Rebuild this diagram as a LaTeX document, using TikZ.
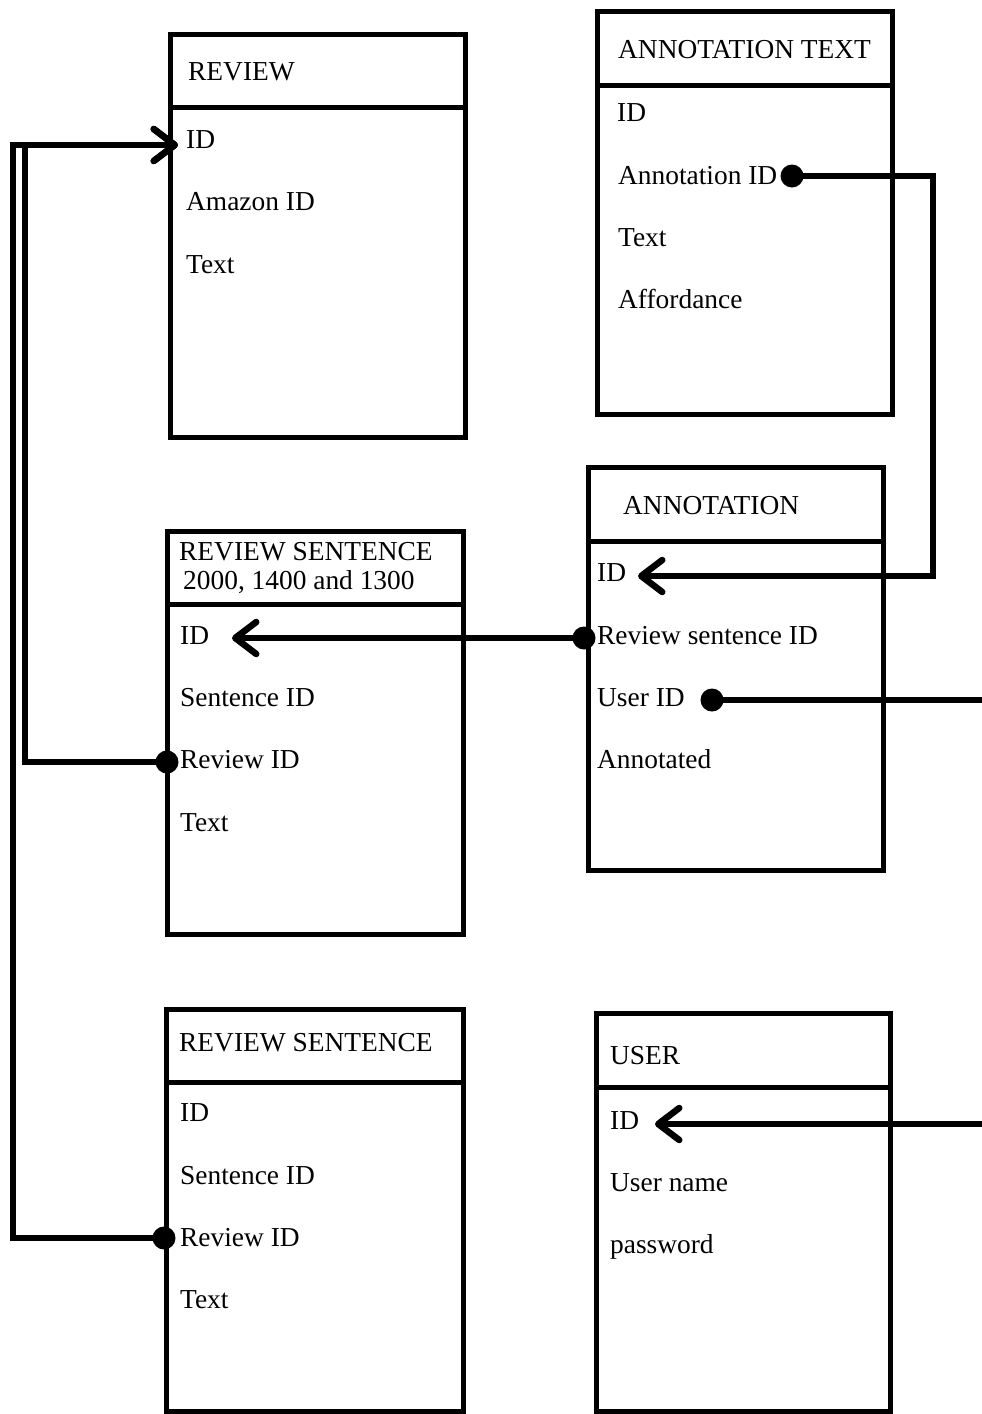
\documentclass[tikz,border=0pt]{standalone}
\usepackage{fontspec}
\setmainfont{Liberation Serif}
\usetikzlibrary{arrows.meta}
\begin{document}
\begin{tikzpicture}[x=1pt,y=-1pt,
 tbl/.style={draw, line width=5pt, rectangle, inner sep=0pt, outer sep=0pt, anchor=north west},
 sepline/.style={line width=5pt},
 fld/.style={anchor=west, inner sep=0pt, text height=17pt, text depth=0pt, font=\fontsize{27.4}{30}\selectfont},
 conn/.style={line width=5.5pt},
 arr/.style={conn, -{Straight Barb[length=21pt,width=32pt,line width=6.5pt,round]}},
 dotn/.style={circle, fill=black, inner sep=0pt, minimum size=23pt}]
\useasboundingbox (0,0) rectangle (982,1414);
\fill[white] (0,0) rectangle (982,1414);

% tables
\node[tbl, minimum width=295pt, minimum height=403pt] (review) at (170,34) {};
\draw[sepline] (170,107) -- (465,107);
\node[tbl, minimum width=295pt, minimum height=403pt] (anntext) at (597,11) {};
\draw[sepline] (597,85) -- (892,85);
\node[tbl, minimum width=296pt, minimum height=403pt] (rs1) at (167,531) {};
\draw[sepline] (167,604) -- (463,604);
\node[tbl, minimum width=295pt, minimum height=403pt] (annot) at (588,467) {};
\draw[sepline] (588,541) -- (883,541);
\node[tbl, minimum width=297pt, minimum height=402pt] (rs2) at (166,1009) {};
\draw[sepline] (166,1082) -- (463,1082);
\node[tbl, minimum width=294pt, minimum height=398pt] (user) at (596,1013) {};
\draw[sepline] (596,1087) -- (890,1087);

% texts
\node[fld] (revT) at (188,72) {REVIEW};
\node[fld] (revID) at (186,140) {ID};
\node[fld] (revAm) at (186,202) {Amazon ID};
\node[fld] (revTx) at (186,265) {Text};

\node[fld] (atT) at (618,50) {ANNOTATION TEXT};
\node[fld] (atID) at (617,113) {ID};
\node[fld] (atAn) at (618,176) {Annotation ID};
\node[fld] (atTx) at (618,238) {Text};
\node[fld] (atAf) at (618,300) {Affordance};

\node[fld] (anT) at (623,506) {ANNOTATION};
\node[fld] (anID) at (597,573) {ID};
\node[fld] (anRs) at (597,636) {Review sentence ID};
\node[fld] (anUs) at (597,698) {User ID};
\node[fld] (anAn) at (597,760) {Annotated};

\node[fld] (rs1T) at (179,552) {REVIEW SENTENCE};
\node[fld] (rs1T2) at (183,581) {2000, 1400 and 1300};
\node[fld] (rs1ID) at (180,636) {ID};
\node[fld] (rs1Se) at (180,698) {Sentence ID};
\node[fld] (rs1Rv) at (180,760) {Review ID};
\node[fld] (rs1Tx) at (180,823) {Text};

\node[fld] (rs2T) at (179,1043) {REVIEW SENTENCE};
\node[fld] (rs2ID) at (180,1113) {ID};
\node[fld] (rs2Se) at (180,1176) {Sentence ID};
\node[fld] (rs2Rv) at (180,1238) {Review ID};
\node[fld] (rs2Tx) at (180,1300) {Text};

\node[fld] (usT) at (610,1056) {USER};
\node[fld] (usID) at (610,1121) {ID};
\node[fld] (usNm) at (610,1183) {User name};
\node[fld] (usPw) at (610,1245) {password};

% ports
\coordinate (toRevID) at (178,145);
\coordinate (bend1) at (25,145);
\coordinate (bend2) at (13,145);
\coordinate (toRS1ID) at (232,638);
\coordinate (bend4) at (933,576);
\coordinate (toAnnID) at (638,576);
\coordinate (edgeR1) at (982,700);
\coordinate (edgeR2) at (982,1124);
\coordinate (toUserID) at (655,1124);

\coordinate (p1) at (167,762);
\coordinate (p2) at (164,1238);
\coordinate (p3) at (584,638);
\coordinate (p4) at (792,176);
\coordinate (p5) at (712,700);

% connectors
\draw[arr] (p1) -| (bend1) -- (toRevID);
\draw[arr] (p2) -| (bend2) -- (toRevID);
\draw[arr] (p3) -- (toRS1ID);
\draw[arr] (p4) -| (bend4) -- (toAnnID);
\draw[conn] (p5) -- (edgeR1);
\draw[arr] (edgeR2) -- (toUserID);

\node[dotn] (d1) at (p1) {};
\node[dotn] (d2) at (p2) {};
\node[dotn] (d3) at (p3) {};
\node[dotn] (d4) at (p4) {};
\node[dotn] (d5) at (p5) {};
\end{tikzpicture}
\end{document}
